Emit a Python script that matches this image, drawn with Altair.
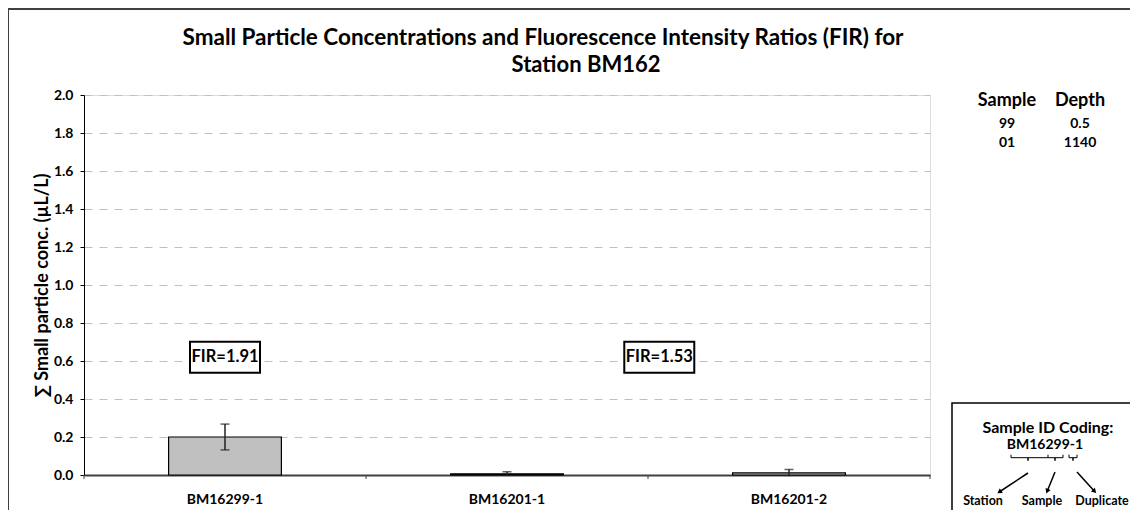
import altair as alt
import pandas as pd

# ---- data ----
samples = ["BM16299-1", "BM16201-1", "BM16201-2"]
conc = [0.20, 0.006, 0.011]
err = [0.068, 0.011, 0.018]
fir_anchor = ["BM16299-1", "BM16201-2"]
fir_text = ["FIR=1.91", "FIR=1.53"]
table_samples = ["99", "01"]
table_depths = ["0.5", "1140"]
y_ticks = [0.0, 0.2, 0.4, 0.6, 0.8, 1.0, 1.2, 1.4, 1.6, 1.8, 2.0]

FONT = "Lato"
W, H = 846, 380

df = pd.DataFrame({"sample": samples, "conc": conc, "err": err})
df["lo"] = df["conc"] - df["err"]
df["hi"] = df["conc"] + df["err"]
fir_df = pd.DataFrame({"sample": fir_anchor, "label": fir_text})
one = pd.DataFrame({"a": [0]})

xscale = alt.Scale(domain=samples, paddingInner=0, paddingOuter=0)
xaxis = alt.Axis(labelAngle=0, ticks=False, labelPadding=17, labelFontSize=14,
                 domainColor="#404040", domainWidth=2, grid=False, labelColor="black",
                 labelFont=FONT, labelFontWeight="bold", labelOverlap=False)
yscale = alt.Scale(domain=[0, 2], nice=False)
ytitle = "\u2211 Small particle conc. (\u00b5L/L)"
yaxis = alt.Axis(values=y_ticks, format=".1f", grid=True, gridDash=[8, 7], gridColor="#c0c0c0",
                 domainColor="black", tickColor="black", tickSize=4, labelPadding=7,
                 labelOverlap=False, labelFlush=False,
                 labelFontSize=14, labelFont=FONT, labelFontWeight="bold", labelColor="black",
                 titleFont=FONT, titleFontSize=18, titleFontWeight="bold", titleColor="black",
                 titleX=-42, titleY=190, titleBaseline="middle", titleAlign="center")


def X(bp=None):
    if bp is None:
        return alt.X("sample:N", scale=xscale, axis=xaxis, title=None, sort=samples)
    return alt.X("sample:N", scale=xscale, axis=xaxis, title=None, sort=samples, bandPosition=bp)


def Y(field):
    return alt.Y(field, scale=yscale, axis=yaxis, title=ytitle)


def Yd(v):
    return alt.Y(datum=v, scale=yscale, axis=yaxis, title=ytitle)


bars = alt.Chart(df).mark_bar(width=alt.RelativeBandSize(0.4), fill="#c0c0c0",
                              stroke="black", strokeWidth=1.2).encode(x=X(), y=Y("conc:Q"))
ebar = alt.Chart(df).mark_rule(color="#222", strokeWidth=1.5).encode(
    x=X(), y=Y("lo:Q"), y2="hi:Q")
ecap_hi = alt.Chart(df).mark_tick(color="#222", size=9, thickness=1.5).encode(x=X(), y=Y("hi:Q"))
ecap_lo = alt.Chart(df[df["lo"] > 0]).mark_tick(color="#222", size=9, thickness=1.5).encode(
    x=X(), y=Y("lo:Q"))

xticks = alt.Chart(df).mark_rule(color="#404040", strokeWidth=1).encode(
    x=X(0), y=alt.value(H), y2=alt.value(H + 4))
xtick_end = alt.Chart(df.tail(1)).mark_rule(color="#404040", strokeWidth=1).encode(
    x=X(1), y=alt.value(H), y2=alt.value(H + 4))

box_shape = "M-1,-0.443L1,-0.443L1,0.443L-1,0.443Z"
fir1 = fir_df.head(1)
fir2 = fir_df.tail(1)
fir_layers = []
for d, bp in [(fir1, 0.5), (fir2, 0.04)]:
    fir_layers.append(alt.Chart(d).mark_point(shape=box_shape, size=4900, fill="white", filled=False,
                                              stroke="black", strokeWidth=2, opacity=1).encode(
        x=X(bp), y=Yd(0.62)))
    fir_layers.append(alt.Chart(d).mark_text(font=FONT, fontSize=16.5, fontWeight="bold", color="black").encode(
        x=X(bp), y=Yd(0.62), text="label:N"))


def txt(s, x, y, size=12):
    return alt.Chart(one).mark_text(text=s, font=FONT, fontSize=size, fontWeight="bold",
                                    color="black", baseline="middle", align="center").encode(
        x=alt.value(x), y=alt.value(y))


def rule(x1, y1, x2, y2, w=1.2, color="black"):
    return alt.Chart(one).mark_rule(color=color, strokeWidth=w).encode(
        x=alt.value(x1), y=alt.value(y1), x2=alt.value(x2), y2=alt.value(y2))


def head(x, y, ang):
    return alt.Chart(one).mark_point(shape="triangle", size=30, filled=True, color="black",
                                     opacity=1, angle=ang).encode(x=alt.value(x), y=alt.value(y))


deco = []
# outer border
deco.append(alt.Chart(one).mark_rect(fill=None, stroke="#404040", strokeWidth=2).encode(
    x=alt.value(-76), y=alt.value(-86), x2=alt.value(1300), y2=alt.value(700)))
# title
deco.append(txt("Small Particle Concentrations and Fluorescence Intensity Ratios (FIR) for", 459, -57, 22.5))
deco.append(txt("Station BM162", 502, -30, 22))
# sample / depth table
deco.append(txt("Sample", 923, 6, 18))
deco.append(txt("Depth", 996, 6, 18))
for i, (s, d) in enumerate(zip(table_samples, table_depths)):
    deco.append(txt(s, 923, 29 + 19 * i, 14))
    deco.append(txt(d, 996, 29 + 19 * i, 14))
# sample id coding box
deco.append(alt.Chart(one).mark_rect(fill="white", stroke="black", strokeWidth=1.5).encode(
    x=alt.value(868), y=alt.value(308), x2=alt.value(1300), y2=alt.value(700)))
deco.append(txt("Sample ID Coding:", 964, 333, 16))
deco.append(txt("BM16299-1", 961, 350, 14))
by = 362.7
deco += [
    rule(927, by, 979, by, 1),
    rule(927, by - 3, 927, by, 1), rule(964, by - 3, 964, by, 1), rule(979, by - 3, 979, by, 1),
    rule(944, by, 944, by + 3, 1.5), rule(971, by, 971, by + 3, 1.5),
    rule(985, by, 993, by, 1),
    rule(985, by - 3, 985, by, 1), rule(993, by - 3, 993, by, 1),
    rule(989, by, 989, by + 3, 1.5),
    rule(944, 378, 916, 396.5, 1.5), rule(971, 377, 963.5, 395.5, 1.5), rule(993, 377, 1010, 395.8, 1.5),
    head(916, 396.5, 236), head(963.5, 395.5, 203), head(1010, 395.8, 137),
]
deco.append(txt("Station", 899, 406, 12.5))
deco.append(txt("Sample", 958, 406, 12.5))
deco.append(txt("Duplicate", 1018, 406, 12.5))

chart = alt.layer(bars, ebar, ecap_hi, ecap_lo, xticks, xtick_end, *fir_layers, *deco).properties(
    width=W, height=H,
    autosize=alt.AutoSizeParams(type="none"),
    padding={"left": 76, "top": 87, "right": 200, "bottom": 35},
).configure_view(stroke="#808080", strokeWidth=1).configure(background="white")

chart.save("out.html", embed_options={"renderer": "svg", "actions": False})
